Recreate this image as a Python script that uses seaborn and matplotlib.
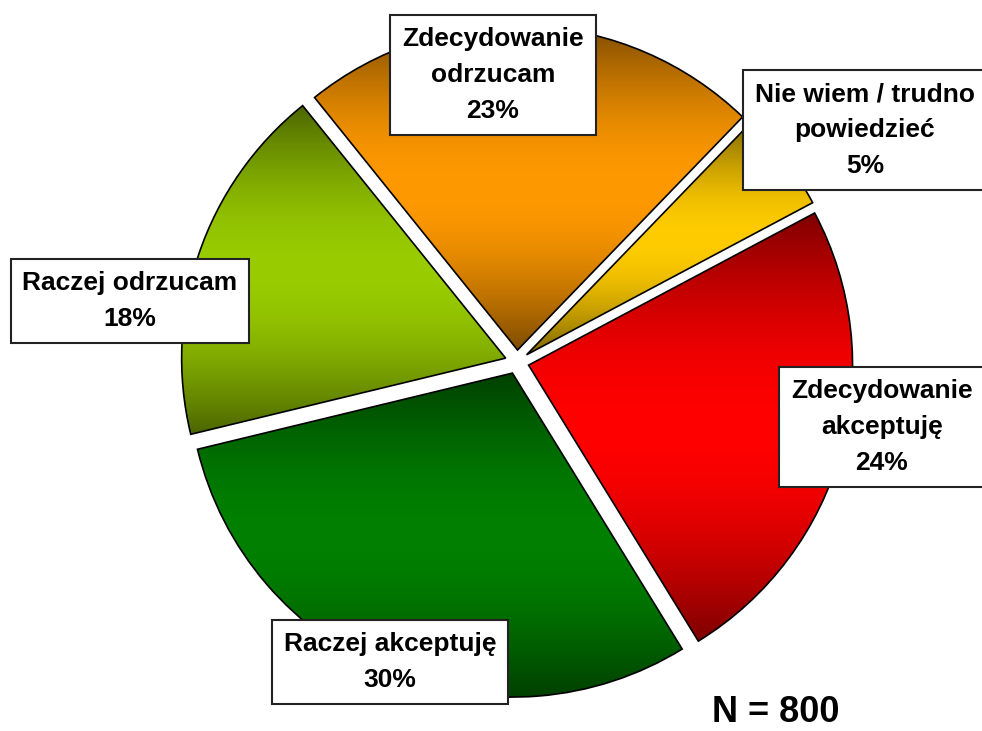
import numpy as np
import matplotlib
matplotlib.use("Agg")
import matplotlib.pyplot as plt
import seaborn as sns
from matplotlib.colors import to_rgb

# ── Data ───────────────────────────────────────────────────────────────────────
categories = [
    "Zdecydowanie\nakceptuję",
    "Raczej akceptuję",
    "Raczej odrzucam",
    "Zdecydowanie\nodrzucam",
    "Nie wiem / trudno\npowiedzieć",
]
shares = [24, 30, 18, 23, 5]
base_colors = ["#FF0000", "#008000", "#99CC00", "#FF9900", "#FFCC00"]
sample_note = "N = 800"

# label centres in pixels (from top-left of the 982x731 canvas)
label_pos = [(882, 427), (390, 662), (130, 301), (493, 75), (865, 130)]

W, H = 982, 731
CX, CY, R = 517, 362, 324      # pie centre / radius in pixels

sns.set_theme(style="white")
plt.rcParams["font.family"] = ["Liberation Sans", "DejaVu Sans"]

fig = plt.figure(figsize=(W / 100, H / 100), dpi=100)
ax = fig.add_axes([0, 0, 1, 1])

wedges, _ = ax.pie(
    shares, startangle=28, counterclock=False,
    explode=[0.037] * len(shares), radius=1,
    wedgeprops=dict(edgecolor="black", linewidth=1.2),
)

# ── vertical dark-bright-dark gradient in each slice ───────────────────────────
t = np.linspace(0, 1, 256)
profile = 0.5 + 0.5 * np.sin(np.pi * t)
for w, col in zip(wedges, base_colors):
    rgb = np.array(to_rgb(col))
    grad = (profile[:, None, None] * rgb[None, None, :])
    bb = w.get_path().get_extents(w.get_patch_transform())
    im = ax.imshow(grad, extent=[bb.x0, bb.x1, bb.y0, bb.y1],
                   origin="upper", aspect="auto", zorder=1,
                   interpolation="bilinear")
    im.set_clip_path(w)
    w.set_facecolor("none")
    w.set_zorder(2)

ax.set_xlim(-CX / R, (W - CX) / R)
ax.set_ylim((CY - H) / R, CY / R)
ax.axis("off")

# ── label boxes ────────────────────────────────────────────────────────────────
for cat, val, (px, py) in zip(categories, shares, label_pos):
    fig.text(px / W, 1 - py / H, f"{cat}\n{val}%",
             ha="center", va="center", fontsize=19, fontweight="bold",
             linespacing=1.62, color="black", zorder=5,
             bbox=dict(boxstyle="square,pad=0.45", fc="white",
                       ec="#222222", lw=1.5))

fig.text(776 / W, 1 - 730 / H, sample_note, ha="center", va="bottom",
         fontsize=26, fontweight="bold", color="black")

fig.savefig("out.png", dpi=100)
